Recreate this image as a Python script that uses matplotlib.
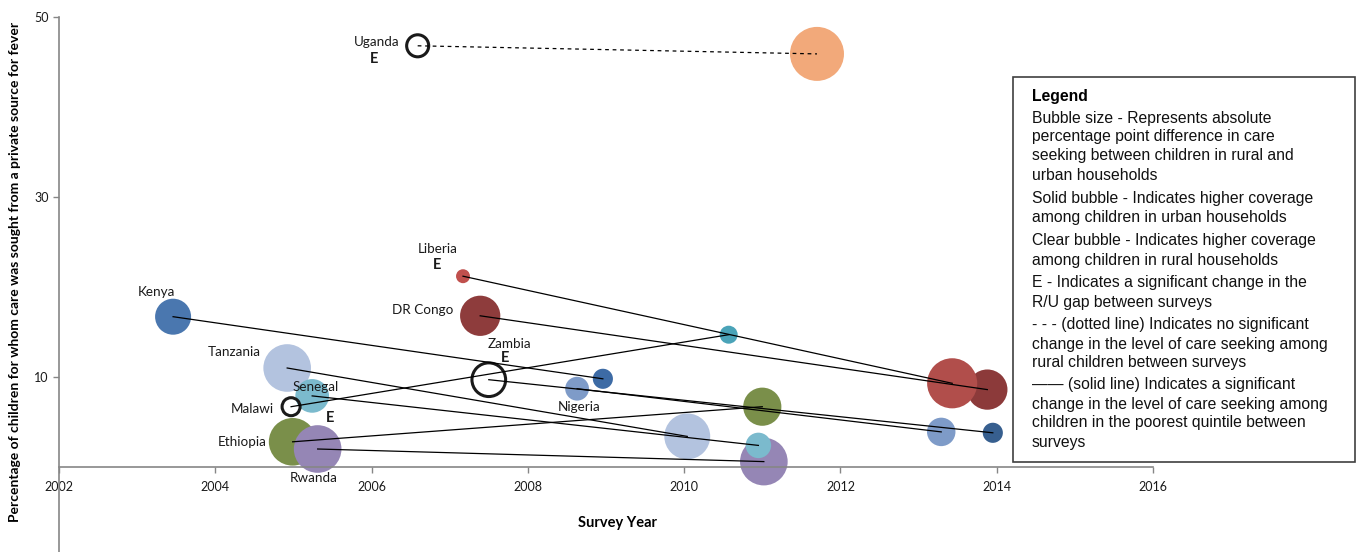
import matplotlib.pyplot as plt
import matplotlib.patches as patches
import numpy as np

# survey pairs: first survey -> second survey
countries = ["Uganda", "Liberia", "DR Congo", "Kenya", "Nigeria", "Zambia",
             "Malawi", "Tanzania", "Senegal", "Ethiopia", "Rwanda"]
year1 = [2006.59, 2007.17, 2007.39, 2003.46, 2008.63, 2007.50,
         2004.97, 2004.92, 2005.24, 2004.99, 2005.31]
care1 = [46.8, 21.2, 16.8, 16.7, 8.7, 9.7, 6.7, 11.0, 7.9, 2.8, 2.0]
year2 = [2011.70, 2013.43, 2013.88, 2008.96, 2013.29, 2013.95,
         2010.57, 2010.04, 2010.95, 2011.00, 2011.02]
care2 = [45.9, 9.3, 8.6, 9.8, 3.9, 3.8, 14.7, 3.4, 2.4, 6.7, 0.6]
# absolute rural/urban gap (percentage points) -> bubble area
gap1 = [6, 2.4, 20, 16, 7, 14, 4, 28, 14, 28, 28]
gap2 = [36, 31, 20, 5, 10, 5, 4, 26, 8, 18, 28]
# clear bubble = rural coverage higher
clear1 = [True, False, False, False, False, True, True, False, False, False, False]
# E = significant change in the R/U gap
sig_gap = ["Uganda", "Liberia", "Zambia", "Rwanda"]
dashed = ["Uganda"]

col1 = ["white", "#c0504d", "#8e3c3c", "#4a77af", "#7e9bc8", "white",
        "white", "#b3c3df", "#7bbacd", "#7a8f4a", "#9586b5"]
col2 = ["#f2a97a", "#b14e4b", "#8c3a3a", "#3d6ba5", "#7e9bc8", "#375f8f",
        "#4aa3b8", "#b3c3df", "#7bbacd", "#7a8f4a", "#9586b5"]

plt.rcParams['font.family'] = ['Lato', 'DejaVu Sans']

fig = plt.figure(figsize=(13.56, 5.52), dpi=100)
ax = fig.add_axes([59 / 1356, -5 / 552, 1094 / 1356, 540 / 552])
ax.set_xlim(2002, 2016)
ax.set_ylim(-10, 50)

def size(g):
    return 42 * np.asarray(g, dtype=float)

# bubbles, drawn so the overlapping ones stack the same way
order2 = [2, 1, 0, 3, 4, 5, 6, 7, 10, 8, 9]
for i in order2:
    ax.scatter(year2[i], care2[i], s=size(gap2[i]), color=col2[i],
               edgecolors="none", zorder=2)
for i in [0, 1, 2, 3, 4, 7, 8, 9, 10]:
    if clear1[i]:
        continue
    ax.scatter(year1[i], care1[i], s=size(gap1[i]), color=col1[i],
               edgecolors="none", zorder=2)
for i in range(len(countries)):
    if clear1[i]:
        ax.scatter(year1[i], care1[i], s=size(gap1[i]), facecolors="none",
                   edgecolors="#1a1a1a", linewidths=2.2, zorder=3)

for i, c in enumerate(countries):
    ls = (0, (3, 3)) if c in dashed else "-"
    ax.plot([year1[i], year2[i]], [care1[i], care2[i]], color="black",
            lw=0.9, ls=ls, zorder=4)

label_at = {
    "Uganda": (2006.07, 47.2), "Liberia": (2006.84, 24.2),
    "DR Congo": (2006.66, 17.4), "Zambia": (2007.77, 13.7),
    "Kenya": (2003.25, 19.4), "Tanzania": (2004.24, 12.8),
    "Senegal": (2005.28, 8.9), "Malawi": (2004.48, 6.4),
    "Ethiopia": (2004.34, 2.8), "Rwanda": (2005.26, -1.2),
    "Nigeria": (2008.65, 6.7),
}
e_at = {"Uganda": (2006.03, 45.3), "Liberia": (2006.84, 22.4),
        "Zambia": (2007.71, 12.1), "Rwanda": (2005.47, 5.4)}
for c, (x, y) in label_at.items():
    ax.text(x, y, c, fontsize=9.7, ha="center", va="center", color="#1a1a1a", zorder=5)
for c in sig_gap:
    x, y = e_at[c]
    ax.text(x, y, "E", fontsize=10.5, fontweight="bold", ha="center", va="center",
            color="#1a1a1a", zorder=5)

# axes styling
for s in ["top", "right"]:
    ax.spines[s].set_visible(False)
ax.spines["bottom"].set_position(("data", 0))
for s in ["bottom", "left"]:
    ax.spines[s].set_color("#868686")
    ax.spines[s].set_linewidth(1.2)
ax.set_xticks(np.arange(2002, 2017, 2))
ax.set_yticks([10, 30, 50])
ax.tick_params(axis="both", colors="#868686", length=4, width=1, labelsize=9,
               labelcolor="#1a1a1a")
ax.tick_params(axis="x", pad=6)

fig.text(15 / 1356, 1 - 272 / 552,
         "Percentage of children for whom care was sought from a private source for fever",
         rotation=90, ha="center", va="center", fontsize=10, fontweight="bold")
fig.text(617 / 1356, 1 - 523 / 552, "Survey Year", ha="center", va="center",
         fontsize=10.5, fontweight="bold")

# legend box
fig.patches.append(patches.Rectangle((1013 / 1356, 1 - 462 / 552), 342 / 1356, 385 / 552,
                                     transform=fig.transFigure, fill=False,
                                     edgecolor="#404040", lw=1.2))
fig.text(1032 / 1356, 1 - 96 / 552, "Legend", fontsize=11.3, fontweight="bold",
         va="center", family="Liberation Sans")
paragraphs = [
    (118, ["Bubble size - Represents absolute", "percentage point difference in care",
           "seeking between children in rural and", "urban households"]),
    (198, ["Solid bubble - Indicates higher coverage", "among children in urban households"]),
    (241, ["Clear bubble - Indicates higher coverage", "among children in rural households"]),
    (283, ["E - Indicates a significant change in the", "R/U gap between surveys"]),
    (325, ["- - - (dotted line) Indicates no significant",
           "change in the level of care seeking among", "rural children between surveys"]),
    (385, ["\u2014\u2014 (solid line) Indicates a significant",
           "change in the level of care seeking among",
           "children in the poorest quintile between", "surveys"]),
]
for y0, lines in paragraphs:
    for k, line in enumerate(lines):
        fig.text(1032 / 1356, 1 - (y0 + 19 * k) / 552, line, fontsize=11.3,
                 va="center", family="Liberation Sans", color="#111111")

fig.savefig("out.png", dpi=100)
